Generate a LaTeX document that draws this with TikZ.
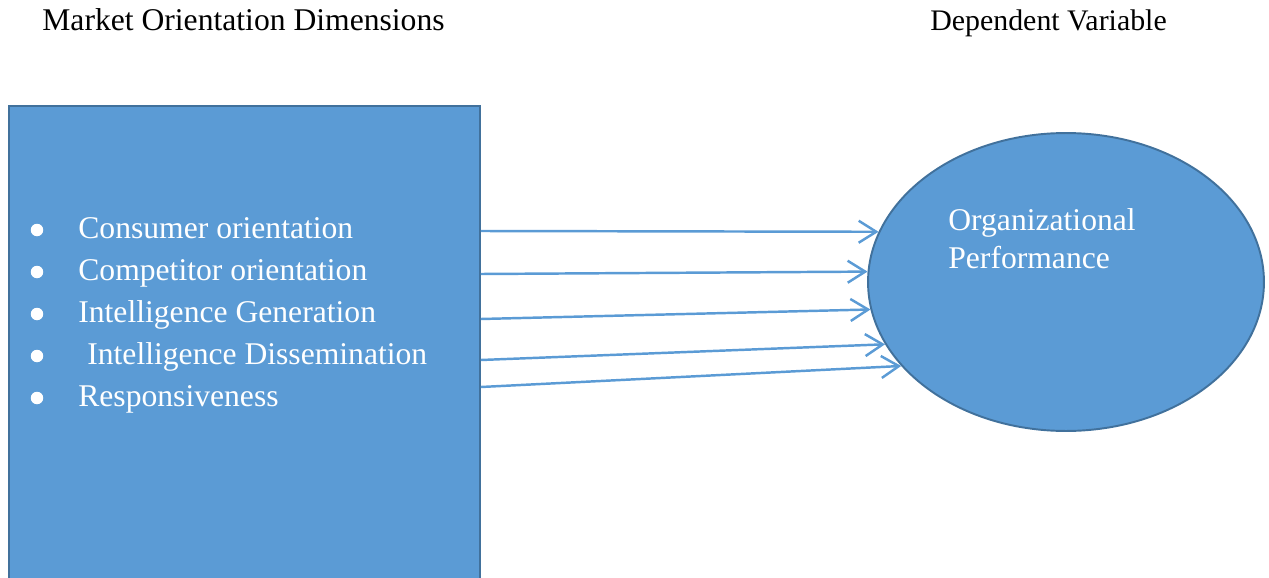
\documentclass[tikz,border=0pt]{standalone}
\usepackage{fontspec}
\setmainfont{Liberation Serif}
\usetikzlibrary{shapes.geometric,arrows.meta}
\definecolor{boxblue}{HTML}{5B9BD5}
\definecolor{edgeblue}{HTML}{41719C}
\tikzset{
  blueshape/.style={draw=edgeblue,fill=boxblue,line width=1.1pt,inner sep=0pt},
  link/.style={draw=boxblue,line width=1.4pt,-{Straight Barb[length=10pt,width=12.5pt,line width=1.4pt]}},
  item/.style={anchor=base west,text=white,inner sep=0pt,font=\fontsize{18}{21}\selectfont},
  dot/.style={circle,fill=white,inner sep=0pt,minimum size=0.25cm},
  heading/.style={anchor=base west,inner sep=0pt}
}

\begin{document}
\begin{tikzpicture}[x=0.02cm,y=-0.02cm]
\useasboundingbox (0,0) rectangle (1269,578);
% headings
\node[heading,font=\fontsize{18}{21}\selectfont] (dims) at (42,31) {Market Orientation Dimensions};
\node[heading,font=\fontsize{17}{20}\selectfont] (dep) at (930,31) {Dependent Variable};
% the two shapes
\node[blueshape,rectangle,anchor=north west,minimum width=9.42cm,minimum height=9.8cm] (box) at (8,105) {};
\node[blueshape,ellipse,minimum width=7.92cm,minimum height=5.96cm] (perf) at (1066,282) {};
\node[item] (perf1) at (948,230) {Organizational};
\node[item] (perf2) at (948,268) {Performance};
% the list
\foreach \y/\name/\txt/\dx in {238/cons/Consumer orientation/0,
                               280/comp/Competitor orientation/0,
                               322/gen/Intelligence Generation/0,
                               364/diss/Intelligence Dissemination/9,
                               406/resp/Responsiveness/0}{
  \node[dot] (b\name) at (37,\y-8) {};
  \node[item] (\name) at (78+\dx,\y) {\txt};
}
% arrows
\coordinate (s1) at (box.east |- 0,231);
\coordinate (s2) at (box.east |- 0,274);
\coordinate (s3) at (box.east |- 0,319);
\coordinate (s4) at (box.east |- 0,360);
\coordinate (s5) at (box.east |- 0,387);
\draw[link] (s1) -- (perf.165.4);
\draw[link] (s2) -- (perf.177.7);
\draw[link] (s3) -- (perf.188.2);
\draw[link] (s4) -- (perf.199.2);
\draw[link] (s5) -- (perf.207.7);
\end{tikzpicture}
\end{document}
